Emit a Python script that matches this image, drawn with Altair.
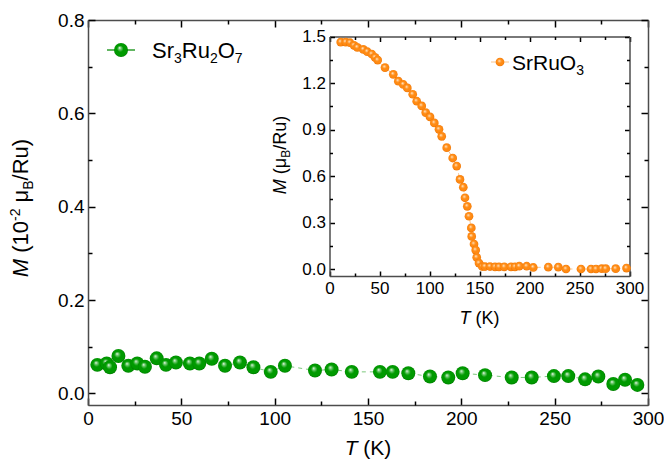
import altair as alt
import pandas as pd

# ---- Sr3Ru2O7: magnetization vs temperature (main panel, 10^-2 muB/Ru)
main_T = [5.0, 10.0, 11.8, 16.3, 21.6, 26.4, 30.5, 36.8, 41.8, 47.1, 54.6, 59.6,
          66.3, 73.4, 81.4, 88.6, 97.9, 105.5, 121.6, 130.5, 141.3, 156.4, 163.2,
          171.6, 183.2, 193.0, 200.7, 212.7, 227.0, 237.7, 249.6, 257.3, 266.3,
          273.4, 281.4, 287.7, 294.3]
main_M = [0.061, 0.064, 0.056, 0.080, 0.059, 0.064, 0.057, 0.075, 0.061, 0.066,
          0.064, 0.064, 0.074, 0.059, 0.066, 0.056, 0.046, 0.059, 0.049, 0.051,
          0.046, 0.046, 0.046, 0.043, 0.036, 0.034, 0.043, 0.039, 0.034, 0.034,
          0.037, 0.037, 0.030, 0.036, 0.020, 0.029, 0.018]

# ---- SrRuO3: magnetization vs temperature (inset, muB/Ru)
ins_T = [11.2, 16.2, 20.5, 24.5, 27.8, 33.8, 37.8, 42.2, 45.5, 48.2, 55.5, 63.8,
         68.8, 73.8, 77.8, 83.2, 87.2, 92.2, 96.2, 100.5, 104.8, 109.5, 112.2,
         117.2, 123.2, 127.2, 130.5, 133.8, 135.5, 137.8, 139.5, 141.8, 142.2,
         144.5, 146.2, 147.2, 149.5, 152.8, 155.5, 160.5, 165.5, 169.5, 174.8,
         181.5, 185.5, 189.8, 197.2, 203.8, 218.8, 228.8, 236.5, 251.5, 261.5,
         266.5, 272.2, 276.2, 286.2, 297.0]
ins_M = [1.464, 1.464, 1.460, 1.443, 1.430, 1.417, 1.402, 1.387, 1.366, 1.348,
         1.300, 1.256, 1.212, 1.191, 1.169, 1.128, 1.083, 1.053, 1.010, 0.982,
         0.943, 0.902, 0.857, 0.784, 0.717, 0.665, 0.579, 0.529, 0.461, 0.406,
         0.342, 0.267, 0.212, 0.163, 0.124, 0.077, 0.040, 0.018, 0.018, 0.018,
         0.016, 0.016, 0.016, 0.016, 0.016, 0.020, 0.020, 0.012, 0.014, 0.014,
         0.002, 0.002, 0.002, 0.002, 0.004, 0.004, 0.004, 0.008]

# tick values
main_x_major = [0, 50, 100, 150, 200, 250, 300]
main_x_minor = [25, 75, 125, 175, 225, 275]
main_y_major = [0.0, 0.2, 0.4, 0.6, 0.8]
main_y_minor = [0.1, 0.3, 0.5, 0.7]
ins_y_major = [0.0, 0.3, 0.6, 0.9, 1.2, 1.5]
ins_y_minor = [0.15, 0.45, 0.75, 1.05, 1.35]

FONT = "Liberation Sans"
W, H = 560, 385

main_df = pd.DataFrame({"T": main_T, "M": main_M})
ins_df = pd.DataFrame({"T": ins_T, "M": ins_M})
ONE = pd.DataFrame({"k": [0]})

# scales: the inset lives inside the main plot area through explicit pixel ranges
sx_main = alt.Scale(domain=[0, 300], nice=False, zero=False)
sy_main = alt.Scale(domain=[-0.025, 0.8], nice=False, zero=False)
sx_ins = alt.Scale(domain=[0, 300], range=[241.5, 541.5], nice=False, zero=False)
sy_ins = alt.Scale(domain=[-0.043, 1.5], range=[256, 16.5], nice=False, zero=False)

AX = dict(grid=False, domainColor="#4d4d4d", domainWidth=1.5, tickColor="black",
          tickWidth=1.5, labelFont=FONT, labelColor="black", title=None,
          labelOverlap=False, labelFlush=False, labelBound=False)


def axis(orient, values, tick, labels=False, size=19, fmt=None, domain=True,
         offset=0):
    kw = dict(AX)
    kw.update(orient=orient, values=values, tickSize=alt.ExprRef(expr=str(-tick)),
              labels=labels, domain=domain, offset=offset)
    if labels:
        kw.update(labelFontSize=size, labelPadding=tick + 4)
        if fmt:
            kw.update(format=fmt)
    return alt.Axis(**kw)


def axis_layer(xs, xa, ys, ya, lo_x, lo_y):
    df = pd.DataFrame({"T": [lo_x[0], lo_x[1]], "M": [lo_y[0], lo_y[1]]})
    return alt.Chart(df).mark_point(opacity=0).encode(
        x=alt.X("T:Q", scale=xs, axis=xa),
        y=alt.Y("M:Q", scale=ys, axis=ya),
    )


axes = [
    # main frame
    axis_layer(sx_main, axis("bottom", main_x_major, 7, True, 19, "d"),
               sy_main, axis("left", main_y_major, 7, True, 19, ".1f"), (0, 300), (0, 0.8)),
    axis_layer(sx_main, axis("bottom", main_x_minor, 4, domain=False),
               sy_main, axis("left", main_y_minor, 4, domain=False), (0, 300), (0, 0.8)),
    axis_layer(sx_main, axis("top", main_x_major, 7),
               sy_main, axis("right", main_y_major, 7), (0, 300), (0, 0.8)),
    axis_layer(sx_main, axis("top", main_x_minor, 4, domain=False),
               sy_main, axis("right", main_y_minor, 4, domain=False), (0, 300), (0, 0.8)),
    # inset frame
    axis_layer(sx_ins, axis("bottom", main_x_major, 5, True, 17, "d", offset=-(H - 256)),
               sy_ins, axis("left", ins_y_major, 5, True, 17, ".1f", offset=-241.5),
               (0, 300), (0, 1.5)),
    axis_layer(sx_ins, axis("bottom", main_x_minor, 3, domain=False, offset=-(H - 256)),
               sy_ins, axis("left", ins_y_minor, 3, domain=False, offset=-241.5),
               (0, 300), (0, 1.5)),
    axis_layer(sx_ins, axis("top", main_x_major, 5, offset=-16.5),
               sy_ins, axis("right", ins_y_major, 5, offset=-(W - 541.5)),
               (0, 300), (0, 1.5)),
    axis_layer(sx_ins, axis("top", main_x_minor, 3, domain=False, offset=-16.5),
               sy_ins, axis("right", ins_y_minor, 3, domain=False, offset=-(W - 541.5)),
               (0, 300), (0, 1.5)),
]


def ball(base, light, dark):
    return alt.RadialGradient(
        gradient="radial", x1=0.4, y1=0.34, r1=0.0, x2=0.5, y2=0.5, r2=0.52,
        stops=[alt.GradientStop(offset=0.0, color="#ffffff"),
               alt.GradientStop(offset=0.16, color=light),
               alt.GradientStop(offset=0.45, color=base),
               alt.GradientStop(offset=0.85, color=base),
               alt.GradientStop(offset=1.0, color=dark)])


green_ball = ball("#009a00", "#7fd07f", "#007000")
orange_ball = ball("#ff8a12", "#ffc88a", "#e06800")

enc_main = dict(x=alt.X("T:Q", scale=sx_main, axis=None),
                y=alt.Y("M:Q", scale=sy_main, axis=None))
enc_ins = dict(x=alt.X("T:Q", scale=sx_ins, axis=None),
               y=alt.Y("M:Q", scale=sy_ins, axis=None))

main_line = alt.Chart(main_df).mark_line(
    color="#7cc87c", strokeWidth=1, strokeDash=[4, 4]).encode(order="T:Q", **enc_main)
main_pts = alt.Chart(main_df).mark_circle(
    fill=green_ball, opacity=1, size=195, strokeWidth=0).encode(**enc_main)
ins_line = alt.Chart(ins_df).mark_line(
    color="#f8c48e", strokeWidth=1, strokeDash=[4, 4]).encode(order="T:Q", **enc_ins)
ins_pts = alt.Chart(ins_df).mark_circle(
    fill=orange_ball, opacity=1, size=76, strokeWidth=0).encode(**enc_ins)

# ---- text built from runs (italic symbols, sub/superscripts)
WID = {'M': 833, ' ': 278, '(': 333, ')': 333, '1': 556, '0': 556, '-': 333,
       '2': 556, 'μ': 576, 'B': 667, '/': 278, 'R': 722, 'u': 556, 'T': 611,
       'K': 667, 'S': 667, 'r': 333, 'O': 778, '3': 556, '7': 556}


def tw(t, s):
    return sum(WID.get(c, 556) for c in t) * s / 1000.0


def text_run(parts, x, y, vertical=False, anchor="center"):
    total = sum(tw(t, s) for t, s, _, _ in parts)
    pos = -total / 2 if anchor == "center" else 0.0
    out = []
    for t, s, it, rise in parts:
        lead = len(t) - len(t.lstrip(" "))
        p = pos + lead * WID[' '] * s / 1000.0
        if vertical:
            px, py, ang = x - rise, y - p, 270
        else:
            px, py, ang = x + p, y - rise, 0
        out.append(alt.Chart(ONE).mark_text(
            text=t.strip(" "), font=FONT, fontSize=s,
            fontStyle="italic" if it else "normal", align="left",
            baseline="alphabetic", angle=ang, color="black").encode(
            x=alt.value(px), y=alt.value(py)))
        pos += tw(t, s)
    return out


texts = []
texts += text_run([("M", 22, True, 0), (" (10", 22, False, 0), ("-2", 14, False, 8),
                   (" μ", 22, False, 0), ("B", 14, False, -5), ("/Ru)", 22, False, 0)],
                  -60, 188, vertical=True)
texts += text_run([("T", 21, True, 0), (" (K)", 21, False, 0)], W / 2, 435)
texts += text_run([("M", 18, True, 0), (" (μ", 18, False, 0), ("B", 12, False, -4),
                   ("/Ru)", 18, False, 0)], 198, 135, vertical=True)
texts += text_run([("T", 18, True, 0), (" (K)", 18, False, 0)], 391.5, 304)

# legends
texts += text_run([("Sr", 22, False, 0), ("3", 14, False, -5), ("Ru", 22, False, 0),
                   ("2", 14, False, -5), ("O", 22, False, 0), ("7", 14, False, -5)],
                  64, 38, anchor="start")
texts += text_run([("SrRuO", 21, False, 0), ("3", 14, False, -5), ], 424, 49.5,
                  anchor="start")

leg = [
    alt.Chart(ONE).mark_rule(color="#2e9e2e", strokeWidth=1.5).encode(
        x=alt.value(19), x2=alt.value(47), y=alt.value(30)),
    alt.Chart(ONE).mark_circle(fill=green_ball, opacity=1, size=195).encode(
        x=alt.value(33), y=alt.value(30)),
    alt.Chart(ONE).mark_rule(color="#f8c48e", strokeWidth=1).encode(
        x=alt.value(403), x2=alt.value(421), y=alt.value(42)),
    alt.Chart(ONE).mark_circle(fill=orange_ball, opacity=1, size=76).encode(
        x=alt.value(412), y=alt.value(42)),
]

chart = alt.layer(*axes, main_line, main_pts, ins_line, ins_pts, *leg, *texts).resolve_scale(
    x="independent", y="independent").resolve_axis(
    x="independent", y="independent").properties(
    width=W, height=H,
    padding={"left": 88, "top": 20, "right": 16, "bottom": 63},
    autosize=alt.AutoSizeParams(type="none"),
    background="white",
).configure_view(stroke=None)

chart.save("out.html", embed_options={"renderer": "svg", "actions": False})
